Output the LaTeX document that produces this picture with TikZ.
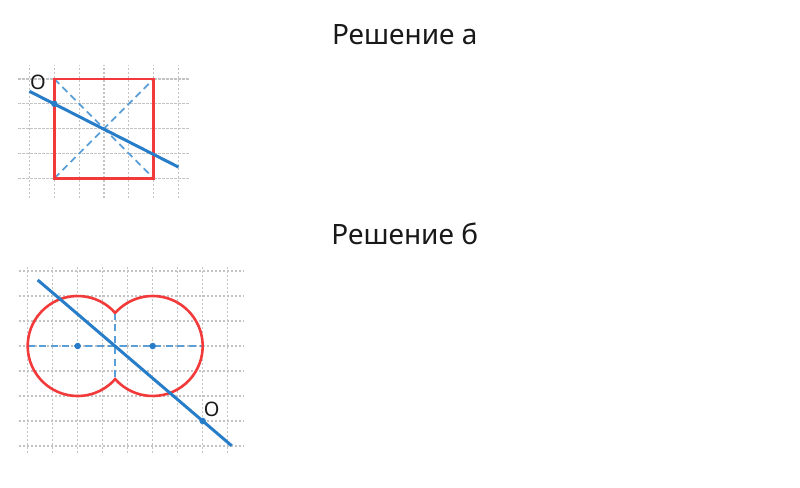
\documentclass[tikz,border=0pt]{standalone}
\usepackage{fontspec}
\setmainfont{Noto Sans}
\usetikzlibrary{positioning}
\definecolor{figred}{RGB}{242,58,58}
\definecolor{lineblue}{RGB}{40,125,200}
\definecolor{dashblue}{RGB}{90,158,215}
\definecolor{gridgray}{RGB}{195,195,195}

\begin{document}
\begin{tikzpicture}[
  x=1pt, y=-1pt,
  every node/.style={font=\fontsize{20}{24}\selectfont, text=black!90},
  title/.style={font=\fontsize{28}{32}\selectfont, anchor=base},
  gridline/.style={draw=gridgray, line width=1.2pt, dash pattern=on 2.5pt off 1.5pt},
  figure/.style={draw=figred, line width=2.6pt, line cap=round},
  axis/.style={draw=dashblue, line width=1.7pt, dash pattern=on 7pt off 4.5pt},
  solution/.style={draw=lineblue, line width=3pt},
  dot/.style={circle, fill=lineblue, inner sep=0pt, minimum size=6.5pt}
]
\useasboundingbox (0,0) rectangle (800,487);

% Titles
\node[title] (titleA) at (404.7,44.3) {Решение а};
\node[title] (titleB) at (404.7,244.3) {Решение б};

% Part a: square
\begin{scope}[shift={(54.3pt,-178.3pt)}, x=24.85pt, y=24.85pt]
  \foreach \i in {-1,...,5}
    \draw[gridline] (\i,-0.8) -- (\i,4.54);
  \foreach \j in {0,...,4}
    \draw[gridline] (-1.45,\j) -- (5.45,\j);
  \coordinate (sqA) at (0,0);
  \coordinate (sqB) at (4,0);
  \coordinate (sqC) at (4,4);
  \coordinate (sqD) at (0,4);
  \draw[axis] (sqA) -- (sqC);
  \draw[axis] (sqD) -- (sqB);
  \draw[figure] (sqA) rectangle (sqC);
  \coordinate (lineAs) at (-1,3.5);
  \coordinate (lineAe) at (5,0.45);
  \draw[solution] (lineAs) -- (lineAe);
  \node[dot] (OA) at (0,3) {};
  \node (labelA) at (-0.66,3.88) {O};
\end{scope}

% Part b: two circles
\begin{scope}[shift={(77.7pt,-346pt)}, x=25pt, y=25pt]
  \foreach \i in {-2,...,6}
    \draw[gridline] (\i,-4.28) -- (\i,3.17);
  \foreach \j in {-4,...,3}
    \draw[gridline] (-2.35,\j) -- (6.62,\j);
  \coordinate (cuspT) at (1.5,1.3229);
  \coordinate (cuspB) at (1.5,-1.3229);
  \coordinate (axL) at (-2,0);
  \coordinate (axR) at (5,0);
  \draw[axis] (axL) -- (axR);
  \draw[axis] (cuspT) -- (cuspB);
  \draw[figure] (cuspT) arc[start angle=41.41, end angle=318.59, radius=2]
    arc[start angle=-138.59, end angle=138.59, radius=2];
  \coordinate (lineBs) at (-1.6,2.64);
  \coordinate (lineBe) at (6.16,-3.99);
  \draw[solution] (lineBs) -- (lineBe);
  \node[dot] (centerL) at (0,0) {};
  \node[dot] (centerR) at (3,0) {};
  \node[dot] (OB) at (5,-3) {};
  \node (labelB) at (5.36,-2.53) {O};
\end{scope}
\end{tikzpicture}
\end{document}
